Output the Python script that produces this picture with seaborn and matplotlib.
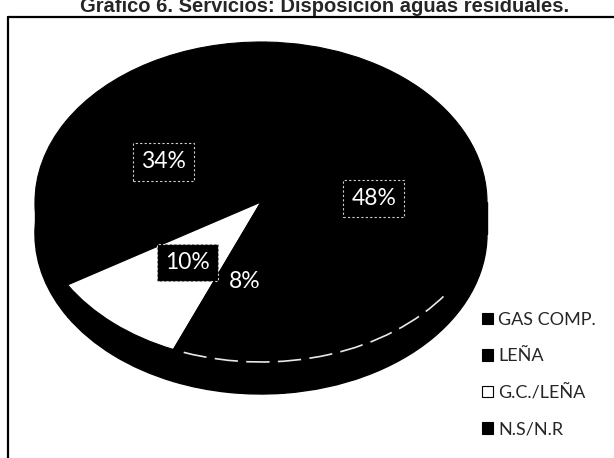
import matplotlib
matplotlib.use("Agg")
import matplotlib.pyplot as plt
import seaborn as sns
from matplotlib.patches import Rectangle, Arc
from matplotlib.lines import Line2D

# data
categories = ["GAS COMP.", "LEÑA", "G.C./LEÑA", "N.S/N.R"]
shares = [48, 34, 10, 8]
slice_colors = ["#000000", "#000000", "#ffffff", "#000000"]

sns.set_style("white")
plt.rcParams["font.family"] = ["Lato", "DejaVu Sans"]

W, H = 614, 458
CX, CY, RX, RY, DEPTH = 261, 202, 226, 160, 32
K = RY / RX       # vertical squash -> tilted pie
START = -84


def Y(py):
    # pixel row -> data y in squashed space
    return (H - py) / K


fig = plt.figure(figsize=(W / 100, H / 100), dpi=100)
ax = fig.add_axes([0, 0, 1, 1])

# side of the disc (3d depth)
ax.pie(shares, colors=["black"] * len(shares), startangle=START,
       center=(CX, Y(CY + DEPTH)), radius=RX,
       wedgeprops=dict(linewidth=1, edgecolor="black"))
ax.add_patch(Rectangle((CX - RX, Y(CY + DEPTH)), 2 * RX, DEPTH / K,
                       color="black", lw=1))

# top face
wedges, _, autotexts = ax.pie(
    shares, colors=slice_colors, startangle=START,
    center=(CX, Y(CY)), radius=RX, autopct="%1.0f%%", pctdistance=0.5,
    wedgeprops=dict(linewidth=0.8, edgecolor="black"),
    textprops=dict(color="white", fontsize=16.5))
for i, t in enumerate(autotexts):
    if i < 3:
        t.set_bbox(dict(boxstyle="square,pad=0.35", fc="black", ec="#d0d0d0",
                        ls=(0, (2, 2)), lw=0.8))

# light seam along the front rim
ax.add_patch(Arc((CX, Y(CY)), 2 * RX, 2 * RX, theta1=250, theta2=325,
                 color="#e8e8e8", lw=1.2, ls=(0, (14, 5))))

ax.set_aspect("auto")
ax.set_xlim(0, W)
ax.set_ylim(0, H / K)
ax.axis("off")

ax.legend(wedges, categories, loc="upper left",
          bbox_to_anchor=(482 / W, 1 - 312 / H), frameon=False,
          fontsize=13, handlelength=0.6, handleheight=0.6,
          handletextpad=0.3, labelspacing=1.12, borderaxespad=0,
          borderpad=0)

# scanned frame: left and top edges only
fig.add_artist(Line2D([8 / W, 8 / W], [0, 1 - 17 / H], transform=fig.transFigure,
                      color="black", lw=1.6))
fig.add_artist(Line2D([8 / W, 1], [1 - 17 / H, 1 - 17 / H], transform=fig.transFigure,
                      color="black", lw=1.6))

# title, clipped by the top edge as in the scan
fig.text(325 / W, 1 - 12 / H, "Gráfico 6. Servicios: Disposición aguas residuales.",
         ha="center", va="baseline", fontsize=14.5, fontweight="bold",
         family=["Liberation Sans", "DejaVu Sans"])

fig.savefig("out.png", dpi=100)
